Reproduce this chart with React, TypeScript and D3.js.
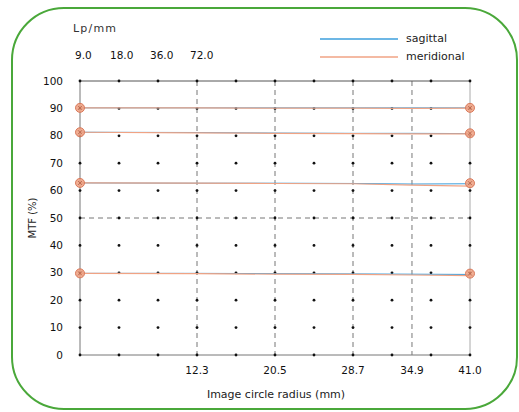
import React from "react";
import * as d3 from "d3";

// chart values
const frequencies = ["9.0", "18.0", "36.0", "72.0"];
const radii = [0, 12.3, 20.5, 28.7, 34.9, 41.0];
const sagittal = [
  [90.2, 90.2, 90.2, 90.2, 90.2, 90.2],
  [81.3, 81.2, 81.0, 80.9, 80.9, 80.8],
  [62.8, 62.7, 62.7, 62.6, 62.4, 62.5],
  [29.8, 29.8, 29.7, 29.6, 29.5, 29.4],
];
const meridional = [
  [90.2, 90.2, 90.1, 90.1, 90.0, 90.1],
  [81.3, 81.1, 80.9, 80.8, 80.7, 80.7],
  [62.8, 62.7, 62.6, 62.5, 62.0, 61.6],
  [29.8, 29.7, 29.5, 29.4, 29.2, 29.0],
];
const leftMarks = [90.2, 81.3, 62.8, 29.8];
const rightMarks = [90.2, 80.9, 62.7, 29.7];
const xTicks = [12.3, 20.5, 28.7, 34.9, 41.0];
const dashedX = [12.3, 20.5, 28.7, 34.9];
const yTicks = [0, 10, 20, 30, 40, 50, 60, 70, 80, 90, 100];
const dotRadii = [0, 4.1, 8.2, 12.3, 16.4, 20.5, 24.6, 28.7, 32.8, 36.9, 41.0];

const W = 519;
const H = 412;
const FONT = "'DejaVu Sans', Verdana, sans-serif";

export default function App() {
  const x = d3.scaleLinear().domain([0, 41]).range([80, 470]);
  const y = d3.scaleLinear().domain([0, 100]).range([355, 81]);
  const line = d3
    .line<number>()
    .x((d, i) => x(radii[i]))
    .y((d) => y(d));

  const sagColor = "#3c9fdc";
  const merColor = "#f0a384";

  return (
    <svg
      width={W}
      height={H}
      style={{ position: "absolute", left: 0, top: 0, background: "#fff" }}
      fontFamily={FONT}
    >
      {/* frame */}
      <rect x={12} y={8} width={505} height={401} rx={52} ry={52} fill="none" stroke="#4aa83a" strokeWidth={2} />

      {/* header */}
      <text x={73} y={32} fontSize={11} letterSpacing={1.2} fill="#333">Lp/mm</text>
      {frequencies.map((f, i) => (
        <text key={f} x={[75, 110, 150, 190][i]} y={59} fontSize={10.5} fill="#111">{f}</text>
      ))}

      {/* legend */}
      <line x1={320} x2={398} y1={39} y2={39} stroke={sagColor} strokeWidth={1.5} />
      <text x={406} y={42} fontSize={11} fill="#222">sagittal</text>
      <line x1={320} x2={398} y1={57} y2={57} stroke={merColor} strokeWidth={1.5} />
      <text x={406} y={60} fontSize={11} fill="#222">meridional</text>

      {/* grid */}
      {dashedX.map((v) => (
        <line key={v} x1={x(v)} x2={x(v)} y1={y(100)} y2={y(0)} stroke="#777" strokeDasharray="5,4" />
      ))}
      <line x1={x(41)} x2={x(41)} y1={y(100)} y2={y(0)} stroke="#aaa" />
      <line x1={x(0)} x2={x(41)} y1={y(50)} y2={y(50)} stroke="#777" strokeDasharray="5,4" />
      <line x1={x(0)} x2={x(41)} y1={y(100)} y2={y(100)} stroke="#555" />
      <line x1={x(0)} x2={x(41)} y1={y(0)} y2={y(0)} stroke="#777" />
      <line x1={x(0)} x2={x(0)} y1={y(100)} y2={y(0)} stroke="#777" />

      {dotRadii.map((r) =>
        yTicks.map((v) => <circle key={r + "-" + v} cx={x(r)} cy={y(v)} r={1.4} fill="#111" />)
      )}

      {/* y axis */}
      {yTicks.map((v) => (
        <text key={v} x={63} y={y(v)} dy="0.35em" textAnchor="end" fontSize={10.5} fill="#111">{v}</text>
      ))}
      <text transform={`translate(36,${y(50)}) rotate(-90)`} textAnchor="middle" fontSize={10} fill="#222">MTF (%)</text>

      {/* x axis */}
      {xTicks.map((v) => (
        <text key={v} x={x(v)} y={374} textAnchor="middle" fontSize={10.5} fill="#111">{v.toFixed(1)}</text>
      ))}
      <text x={276} y={398} textAnchor="middle" fontSize={11} fill="#222">Image circle radius (mm)</text>

      {/* series */}
      {sagittal.map((s, i) => (
        <path key={"s" + i} d={line(s) || ""} fill="none" stroke={sagColor} strokeWidth={1} />
      ))}
      {meridional.map((s, i) => (
        <path key={"m" + i} d={line(s) || ""} fill="none" stroke={merColor} strokeWidth={1.2} />
      ))}

      {/* end markers */}
      {[...leftMarks.map((v) => [0, v]), ...rightMarks.map((v) => [41, v])].map(([r, v], i) => (
        <g key={"mk" + i} transform={`translate(${x(r)},${y(v)})`}>
          <circle r={4.5} fill="#eea080" fillOpacity={0.85} stroke="#d97a5c" strokeWidth={1} />
          <path d="M-2,-2L2,2M-2,2L2,-2" stroke="#b05a40" strokeWidth={0.8} />
        </g>
      ))}
    </svg>
  );
}
